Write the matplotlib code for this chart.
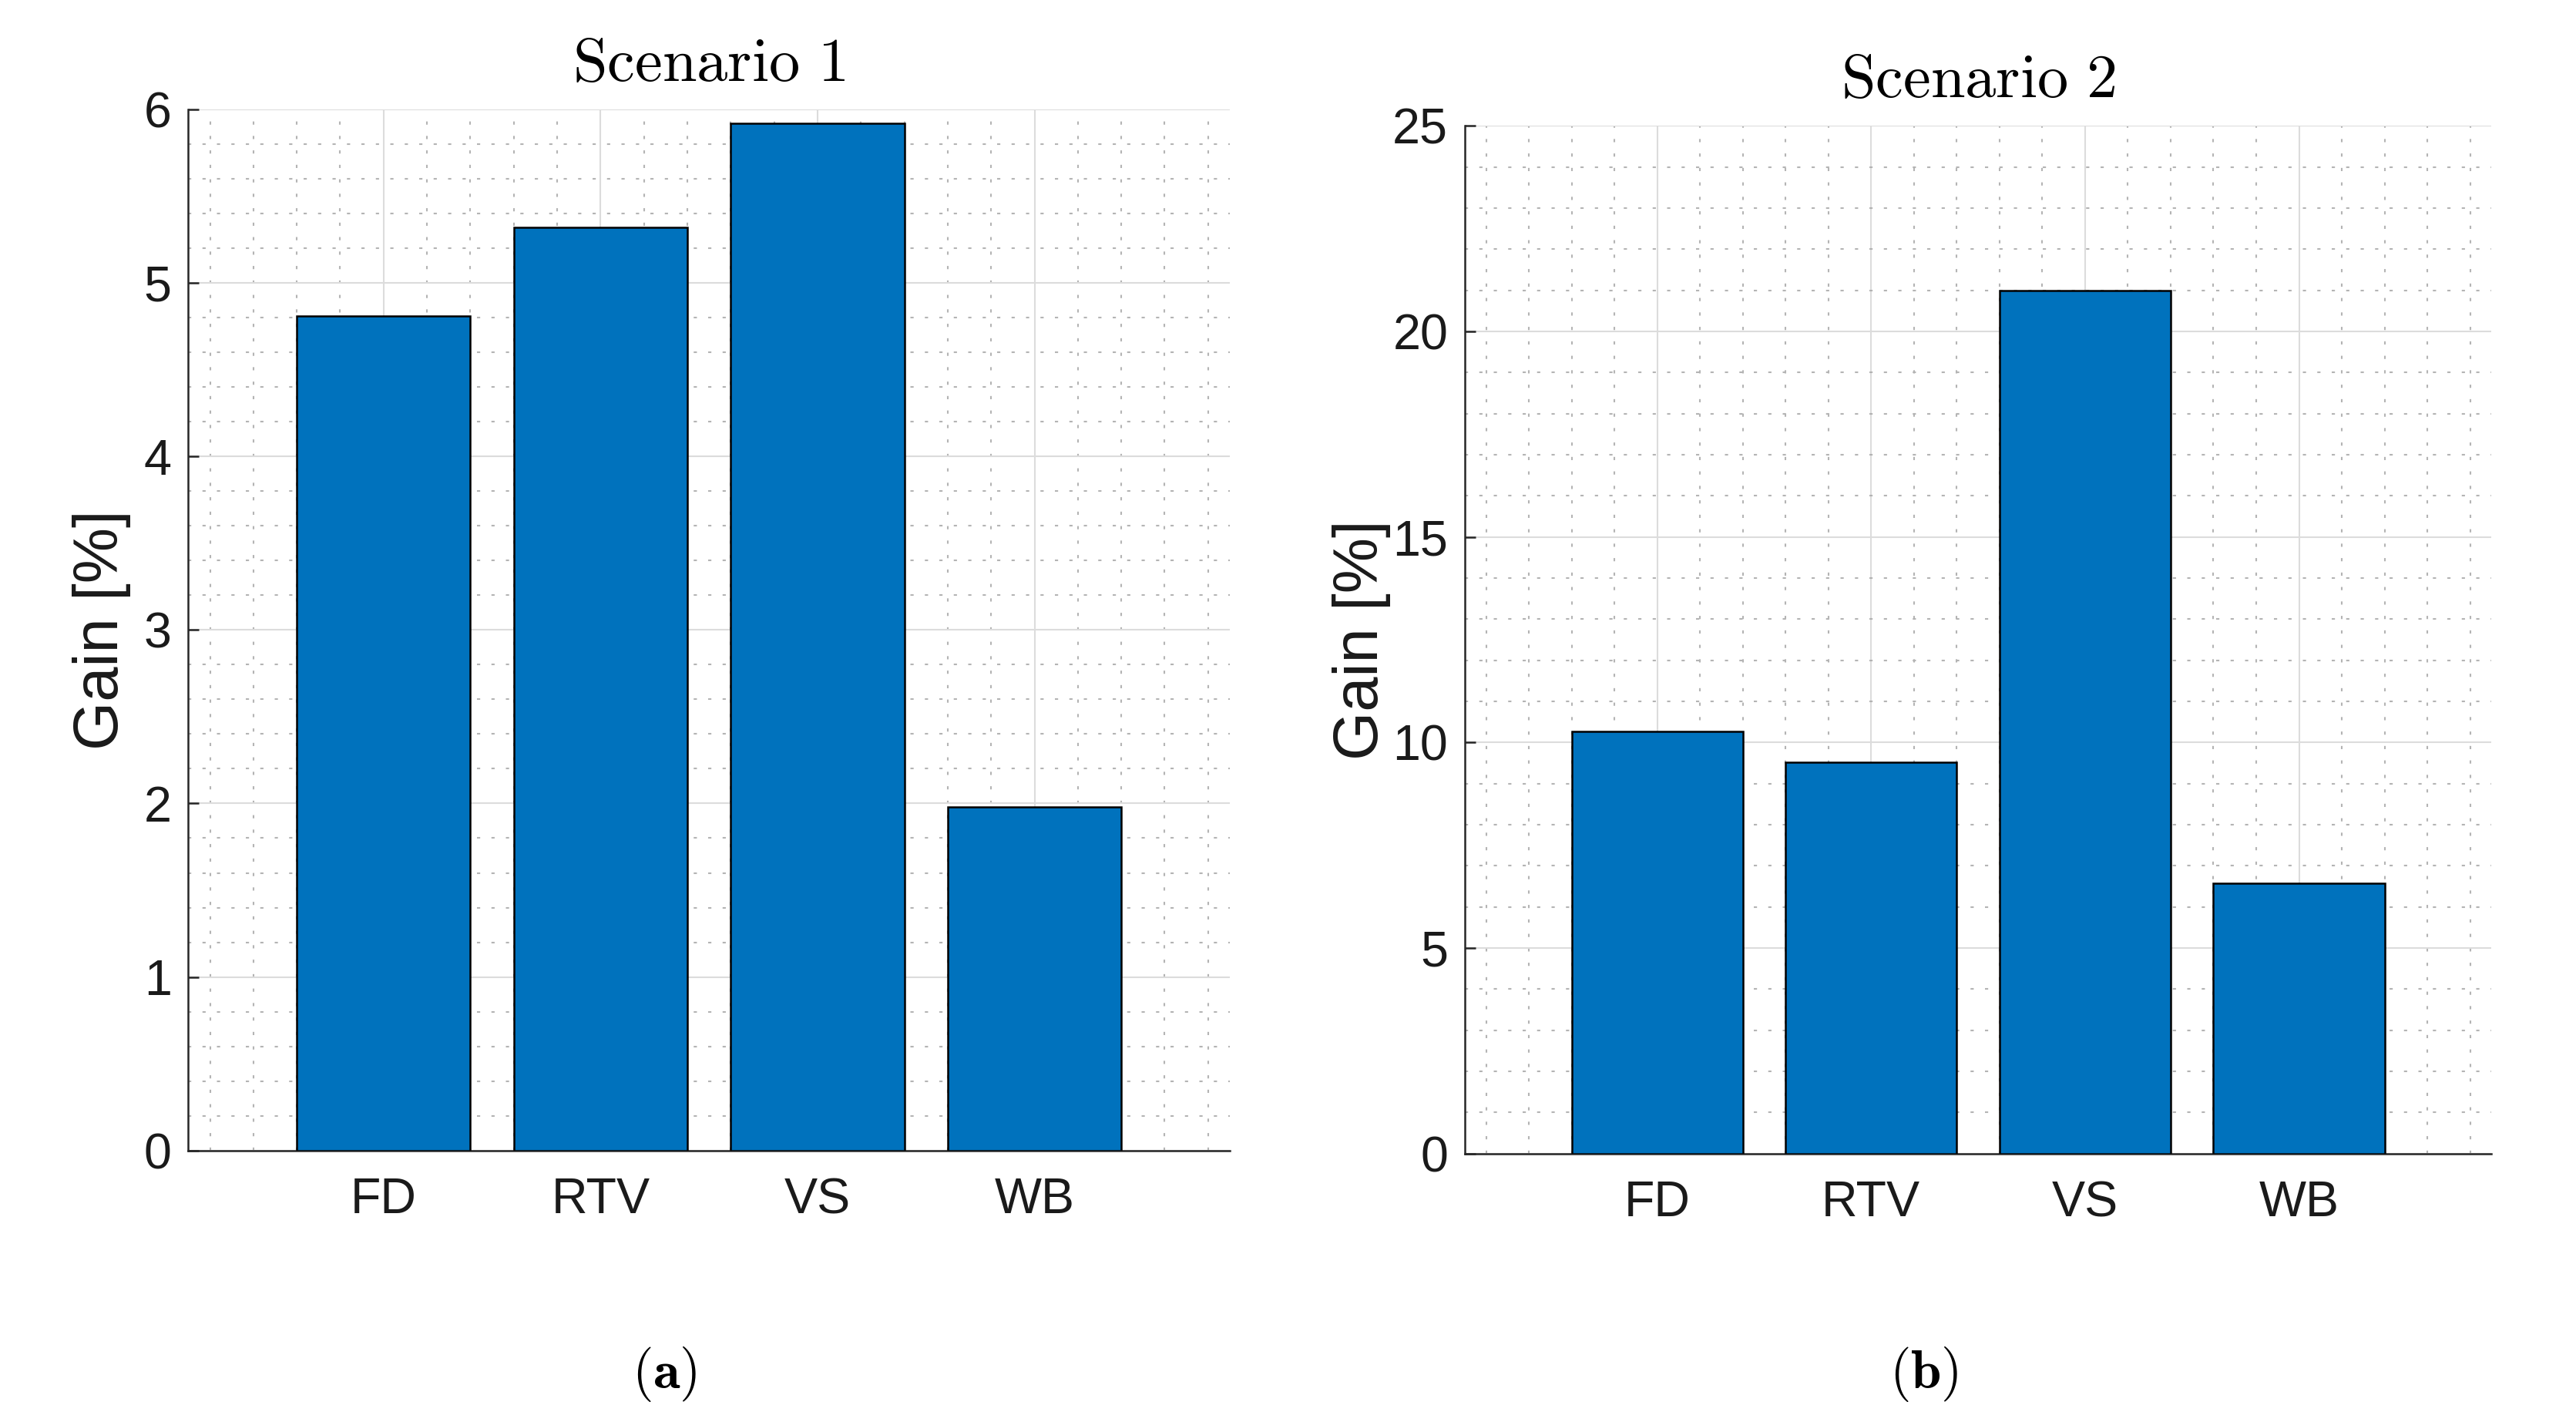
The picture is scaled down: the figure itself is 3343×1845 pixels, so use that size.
import matplotlib
matplotlib.use("Agg")
import matplotlib.pyplot as plt
from matplotlib.ticker import MultipleLocator

categories = ["FD", "RTV", "VS", "WB"]
gain_s1 = [4.81, 5.32, 5.92, 1.98]
gain_s2 = [10.26, 9.51, 21.0, 6.58]

titles = ["Scenario 1", "Scenario 2"]
panel_tags = ["a", "b"]

plt.rcParams["font.family"] = ["Liberation Sans", "DejaVu Sans"]
plt.rcParams["mathtext.fontset"] = "cm"

BAR_COLOR = "#0072BD"
AX_COLOR = "#262626"

fig = plt.figure(figsize=(3343 / 300, 1845 / 300), dpi=300)
ax1 = fig.add_axes([0.0731, 0.1910, 0.4043, 0.7319])
ax2 = fig.add_axes([0.5686, 0.1888, 0.3986, 0.7227])


def style_panel(ax, values, title, ymax, major, minor, label_x):
    xs = list(range(1, len(categories) + 1))
    ax.bar(xs, values, width=0.8, color=BAR_COLOR, edgecolor="black",
           linewidth=0.6, zorder=3)
    ax.set_xlim(0.1, 4.9)
    ax.set_ylim(0, ymax)
    ax.set_xticks(xs)
    ax.set_xticklabels(categories)
    ax.yaxis.set_major_locator(MultipleLocator(major))
    ax.yaxis.set_minor_locator(MultipleLocator(minor))
    ax.xaxis.set_minor_locator(MultipleLocator(0.2))
    ax.set_axisbelow(True)
    ax.grid(which="major", color="#dcdcdc", linewidth=0.5, linestyle="-")
    ax.grid(which="minor", color="#b4b4b4", linewidth=0.5,
            linestyle=(0, (2, 7)))
    for side in ["top", "right"]:
        ax.spines[side].set_visible(False)
    for side in ["left", "bottom"]:
        ax.spines[side].set_color(AX_COLOR)
        ax.spines[side].set_linewidth(0.6)
    ax.tick_params(which="major", direction="in", length=3.4, width=0.6,
                   color=AX_COLOR, labelcolor="#1a1a1a", labelsize=15.5)
    ax.tick_params(which="minor", length=0)
    ax.tick_params(axis="y", pad=5.2)
    ax.tick_params(axis="x", pad=8.3)
    ax.set_ylabel("Gain [%]", fontsize=19.5, color="#1a1a1a")
    ax.yaxis.set_label_coords(label_x, 0.5)
    ax.set_title(r"$\mathrm{" + title.replace(" ", r"\ ") + "}$",
                 fontsize=19.3, pad=9)


style_panel(ax1, gain_s1, titles[0], 6, 1, 0.2, -0.055)
style_panel(ax2, gain_s2, titles[1], 25, 5, 1, -0.072)

fig.text(0.258, 0.024, r"$(\mathbf{" + panel_tags[0] + "})$", fontsize=17,
         ha="center", va="baseline")
fig.text(0.747, 0.024, r"$(\mathbf{" + panel_tags[1] + "})$", fontsize=17,
         ha="center", va="baseline")

fig.savefig("out.png", dpi=300)
